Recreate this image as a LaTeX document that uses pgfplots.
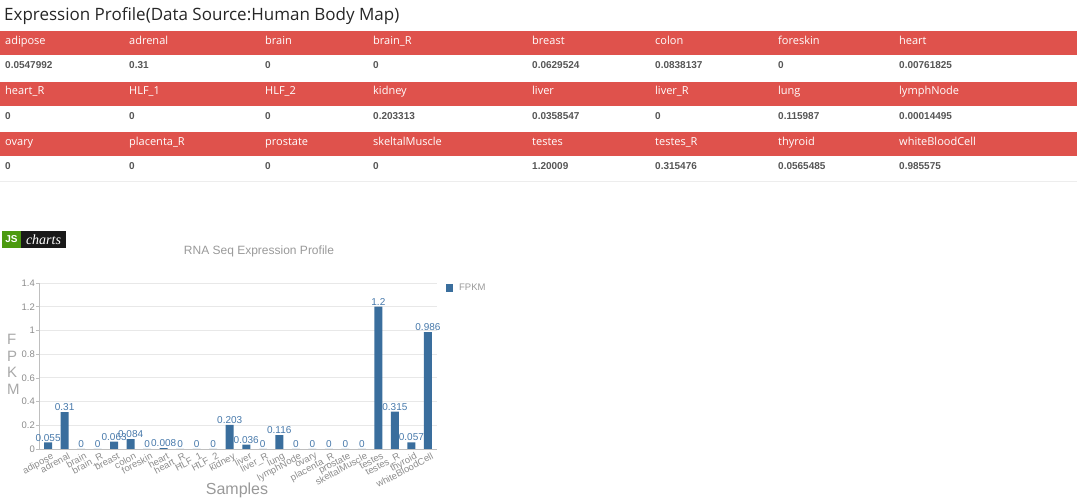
\documentclass[border=0pt]{standalone}
\usepackage{fontspec}
\setmainfont{Liberation Sans}
\newfontfamily\osans{Open Sans}
\newfontfamily\lserif{Liberation Serif}
\usepackage{pgfplots}
\pgfplotsset{compat=1.18}
\usepackage{pgfplotstable}

\definecolor{hdrred}{RGB}{223,82,76}
\definecolor{barblue}{RGB}{58,110,157}
\definecolor{lblblue}{RGB}{70,120,170}
\definecolor{axgray}{RGB}{140,140,140}
\definecolor{ttlgray}{RGB}{153,153,153}
\definecolor{gridgray}{RGB}{232,232,232}
\definecolor{valgray}{RGB}{85,85,85}
\definecolor{jsgreen}{RGB}{76,154,16}

\pgfplotstableread{
x y lab
0 0.0547992 0.055
1 0.31 0.31
2 0 0
3 0 0
4 0.0629524 0.063
5 0.0838137 0.084
6 0 0
7 0.00761825 0.008
8 0 0
9 0 0
10 0 0
11 0.203313 0.203
12 0.0358547 0.036
13 0 0
14 0.115987 0.116
15 0.00014495 0
16 0 0
17 0 0
18 0 0
19 0 0
20 1.20009 1.2
21 0.315476 0.315
22 0.0565485 0.057
23 0.985575 0.986
}\fpkm

\newcommand\hdr[3]{\node[anchor=base west,inner sep=0pt,text=white,font=\osans\fontsize{11bp}{13bp}\selectfont] at (#1,500-#2) {#3};}
\newcommand\val[3]{\node[anchor=base west,inner sep=0pt,text=valgray,font=\bfseries\fontsize{10bp}{12bp}\selectfont] at (#1,500-#2) {#3};}

\begin{document}
\begin{tikzpicture}[x=1bp,y=1bp]
\useasboundingbox (0,0) rectangle (1080,500);
% title
\node[anchor=west,inner sep=0pt,text=black!85,font=\osans\fontsize{17bp}{20bp}\selectfont] at (4,500-16) {Expression Profile(Data Source:Human Body Map)};
% header bars
\fill[hdrred] (0,500-31) rectangle (1077,500-55);
\fill[hdrred] (0,500-82) rectangle (1077,500-106);
\fill[hdrred] (0,500-132.5) rectangle (1077,500-156);
\draw[black!7,line width=1bp] (0,500-182) -- (1077,500-182);
% row 1
\hdr{5}{44.5}{adipose}\hdr{129}{44.5}{adrenal}\hdr{265}{44.5}{brain}\hdr{373}{44.5}{brain\_R}
\hdr{532}{44.5}{breast}\hdr{655}{44.5}{colon}\hdr{778}{44.5}{foreskin}\hdr{899}{44.5}{heart}
\val{5}{69}{0.0547992}\val{129}{69}{0.31}\val{265}{69}{0}\val{373}{69}{0}
\val{532}{69}{0.0629524}\val{655}{69}{0.0838137}\val{778}{69}{0}\val{899}{69}{0.00761825}
% row 2
\hdr{5}{95}{heart\_R}\hdr{129}{95}{HLF\_1}\hdr{265}{95}{HLF\_2}\hdr{373}{95}{kidney}
\hdr{532}{95}{liver}\hdr{655}{95}{liver\_R}\hdr{778}{95}{lung}\hdr{899}{95}{lymphNode}
\val{5}{119.5}{0}\val{129}{119.5}{0}\val{265}{119.5}{0}\val{373}{119.5}{0.203313}
\val{532}{119.5}{0.0358547}\val{655}{119.5}{0}\val{778}{119.5}{0.115987}\val{899}{119.5}{0.00014495}
% row 3
\hdr{5}{145.5}{ovary}\hdr{129}{145.5}{placenta\_R}\hdr{265}{145.5}{prostate}\hdr{373}{145.5}{skeltalMuscle}
\hdr{532}{145.5}{testes}\hdr{655}{145.5}{testes\_R}\hdr{778}{145.5}{thyroid}\hdr{899}{145.5}{whiteBloodCell}
\val{5}{170}{0}\val{129}{170}{0}\val{265}{170}{0}\val{373}{170}{0}
\val{532}{170}{1.20009}\val{655}{170}{0.315476}\val{778}{170}{0.0565485}\val{899}{170}{0.985575}
% JS charts logo
\fill[jsgreen] (2,500-231) rectangle (21,500-248);
\fill[black!90] (21,500-231) rectangle (66,500-248);
\node[text=white,font=\bfseries\fontsize{10bp}{12bp}\selectfont,inner sep=0pt] at (11.5,500-239.5) {JS};
\node[text=white,font=\lserif\itshape\fontsize{14bp}{16bp}\selectfont,inner sep=0pt] at (43.5,500-239.5) {charts};
% chart
\begin{axis}[
  at={(39bp,51bp)}, anchor=south west,
  scale only axis, width=398bp, height=166bp,
  xmin=-0.55, xmax=23.55, ymin=0, ymax=1.4,
  ybar, bar width=8bp,
  axis x line*=bottom, axis y line*=left,
  axis line style={-, draw=black!25, line width=0.8bp},
  ytick={0,0.2,0.4,0.6,0.8,1,1.2,1.4},
  yticklabels={0,0.2,0.4,0.6,0.8,1,1.2,1.4},
  xtick={0,...,23},
  xticklabels={adipose,adrenal,brain,brain\_R,breast,colon,foreskin,heart,heart\_R,HLF\_1,HLF\_2,kidney,liver,liver\_R,lung,lymphNode,ovary,placenta\_R,prostate,skeltalMuscle,testes,testes\_R,thyroid,whiteBloodCell},
  /pgf/number format/assume math mode=true,
  tick align=outside,
  xtick style={draw=none},
  ytick style={draw=black!25, line width=0.6bp},
  major tick length=3bp,
  ymajorgrids, grid style={draw=gridgray, line width=0.8bp},
  y tick label style={text=axgray, font=\fontsize{9.5bp}{11bp}\selectfont, inner sep=1bp},
  x tick label style={text=axgray, font=\fontsize{9.5bp}{11bp}\selectfont, rotate=28, anchor=north east, inner sep=0.5bp, xshift=3bp, yshift=-1bp},
  nodes near coords,
  point meta=explicit symbolic,
  nodes near coords style={text=lblblue, font=\fontsize{10bp}{12bp}\selectfont, inner sep=1bp, anchor=south},
  legend style={draw=none, fill=none, at={(1.0226,1.006)}, anchor=north west, inner sep=0pt, font=\fontsize{9.5bp}{11bp}\selectfont, text=ttlgray, legend cell align=left},
  legend image code/.code={\fill[barblue] (0bp,-3.5bp) rectangle (7bp,4bp); \path (11bp,0bp);},
  clip=false,
]
\addplot[fill=barblue, draw=none] table[x=x,y=y,meta=lab]{\fpkm};
\addlegendentry{FPKM}
\end{axis}
\node[text=ttlgray,font=\fontsize{12bp}{14bp}\selectfont,inner sep=0pt] at (259,500-251) {RNA Seq Expression Profile};
\node[text=ttlgray,font=\fontsize{16bp}{18bp}\selectfont,inner sep=0pt] at (237,500-490) {Samples};
\node[text=ttlgray!85,font=\fontsize{15bp}{16.5bp}\selectfont,inner sep=0pt,align=left,anchor=north west] at (7,500-334) {F\\P\\K\\M};
\end{tikzpicture}
\end{document}
